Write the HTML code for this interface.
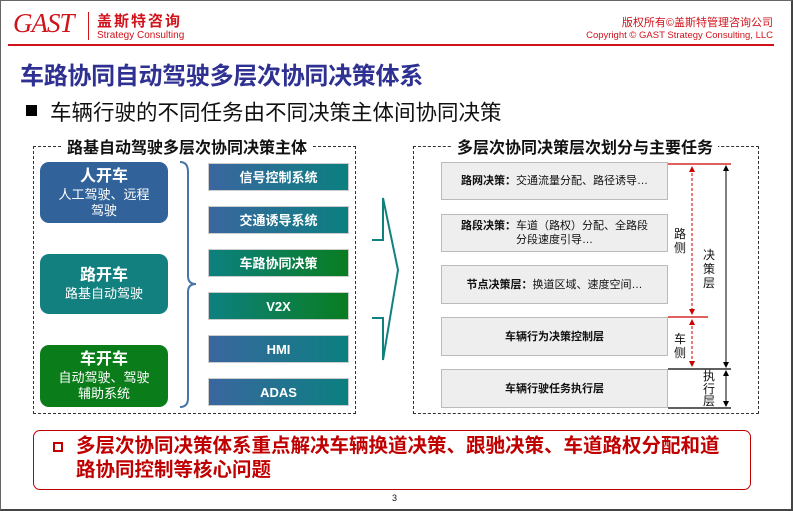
<!DOCTYPE html>
<html><head><meta charset="utf-8"><style>
*{margin:0;padding:0;box-sizing:border-box}
body{width:793px;height:511px;position:relative;background:#fff;font-family:"Liberation Sans","Noto Sans CJK SC",sans-serif;overflow:hidden}
.a{position:absolute}
.lb{position:absolute;left:40px;width:128px;border-radius:9px;color:#fff;text-align:center;font-size:13px;line-height:16px}
.lb b{display:block;font-size:16px;line-height:20px}
.bar{position:absolute;left:208px;width:141px;height:28px;color:#fff;font-weight:bold;font-size:13px;text-align:center;line-height:28px;border:1px solid #ccc}
.g1{background:linear-gradient(90deg,#3a66a0,#0b8080)}
.g2{background:linear-gradient(90deg,#0d8080,#0a7d20)}
.gb{position:absolute;left:441px;width:227px;background:#eeeeee;border:1px solid #bbb;font-size:11px;display:flex;align-items:center;justify-content:center;text-align:center;line-height:14px;color:#111}
.v{position:absolute;width:14px;font-size:12px;line-height:14px;text-align:center;color:#111}
</style></head><body>
<div class="a" style="left:0;top:0;width:793px;height:511px;border:1px solid #666;border-right:2px solid #444;border-bottom:2px solid #444"></div>
<div class="a" style="left:13px;top:8px;font:italic 27px 'Liberation Serif',serif;color:#d0121b;letter-spacing:-1px">GAST</div>
<div class="a" style="left:88px;top:12px;width:1px;height:28px;background:#d0121b"></div>
<div class="a" style="left:97px;top:10px;font-size:15px;font-weight:bold;color:#d0121b;letter-spacing:2px">盖斯特咨询</div>
<div class="a" style="left:97px;top:30px;font-size:10px;color:#d0121b">Strategy Consulting</div>
<div class="a" style="right:20px;top:14px;font-size:11px;color:#d0121b">版权所有©盖斯特管理咨询公司</div>
<div class="a" style="right:20px;top:30px;font-size:9.5px;color:#d0121b">Copyright © GAST Strategy Consulting, LLC</div>
<div class="a" style="left:8px;top:44px;width:766px;height:2px;background:#d0121b"></div>
<div class="a" style="left:20px;top:56px;font-size:24px;font-weight:bold;color:#2e3192;letter-spacing:-0.3px">车路协同自动驾驶多层次协同决策体系</div>
<div class="a" style="left:26px;top:105px;width:11px;height:11px;background:#000"></div>
<div class="a" style="left:50px;top:96px;font-size:21.5px;color:#111">车辆行驶的不同任务由不同决策主体间协同决策</div>

<div class="a" style="left:33px;top:146px;width:323px;height:268px;border:1px dashed #333"></div>
<div class="a" style="left:62px;top:134px;padding:0 5px;background:#fff;font-size:16px;font-weight:bold;color:#111">路基自动驾驶多层次协同决策主体</div>
<div class="lb" style="top:162px;height:61px;background:#31639a;padding-top:5px"><b>人开车</b>人工驾驶、远程<br>驾驶</div>
<div class="lb" style="top:254px;height:60px;background:#138080;padding-top:12px"><b>路开车</b>路基自动驾驶</div>
<div class="lb" style="top:345px;height:62px;background:#0a7d1a;padding-top:5px"><b>车开车</b>自动驾驶、驾驶<br>辅助系统</div>
<svg class="a" style="left:0;top:0" width="793" height="511">
<path d="M180,162 Q188,162 188,172 L188,276 Q188,284 196,284 Q188,284 188,292 L188,398 Q188,407 180,407" fill="none" stroke="#4a74a8" stroke-width="2"/>
<polyline points="372,240 383,240 383,198 398,270 383,360 383,318 372,318" fill="none" stroke="#118080" stroke-width="2"/>
<line x1="668" y1="164" x2="731" y2="164" stroke="#c00" stroke-width="1.2"/>
<line x1="668" y1="317" x2="708" y2="317" stroke="#c00" stroke-width="1.2"/>
<line x1="692" y1="168" x2="692" y2="313" stroke="#c00" stroke-dasharray="3,2"/>
<line x1="692" y1="321" x2="692" y2="364" stroke="#c00" stroke-dasharray="3,2"/>
<path d="M692,166 l-3,6 h6z M692,315 l-3,-6 h6z M692,319 l-3,6 h6z M692,367 l-3,-6 h6z" fill="#c00"/>
<line x1="668" y1="369" x2="731" y2="369" stroke="#000" stroke-width="1.2"/>
<line x1="668" y1="408" x2="731" y2="408" stroke="#000" stroke-width="1.2"/>
<line x1="726" y1="166" x2="726" y2="367" stroke="#000"/>
<line x1="726" y1="371" x2="726" y2="406" stroke="#000"/>
<path d="M726,165 l-3,6 h6z M726,368 l-3,-6 h6z M726,370 l-3,6 h6z M726,407 l-3,-6 h6z" fill="#000"/>
</svg>
<div class="bar g1" style="top:163px">信号控制系统</div>
<div class="bar g1" style="top:206px">交通诱导系统</div>
<div class="bar g2" style="top:249px">车路协同决策</div>
<div class="bar g2" style="top:292px">V2X</div>
<div class="bar g1" style="top:335px">HMI</div>
<div class="bar g1" style="top:378px">ADAS</div>

<div class="a" style="left:413px;top:146px;width:346px;height:268px;border:1px dashed #333"></div>
<div class="a" style="left:452px;top:134px;padding:0 5px;background:#fff;font-size:16px;font-weight:bold;color:#111">多层次协同决策层次划分与主要任务</div>
<div class="gb" style="top:162px;height:38px"><span><b>路网决策：</b>交通流量分配、路径诱导…</span></div>
<div class="gb" style="top:214px;height:38px"><span><b>路段决策：</b>车道（路权）分配、全路段<br>分段速度引导…</span></div>
<div class="gb" style="top:265px;height:39px"><span><b>节点决策层：</b>换道区域、速度空间…</span></div>
<div class="gb" style="top:317px;height:39px;font-weight:bold">车辆行为决策控制层</div>
<div class="gb" style="top:369px;height:39px;font-weight:bold">车辆行驶任务执行层</div>
<div class="v" style="left:673px;top:227px">路<br>侧</div>
<div class="v" style="left:673px;top:332px">车<br>侧</div>
<div class="v" style="left:702px;top:248px">决<br>策<br>层</div>
<div class="v" style="left:702px;top:370px;line-height:12.5px">执<br>行<br>层</div>

<div class="a" style="left:33px;top:430px;width:718px;height:60px;border:1px solid #c00000;border-radius:7px"></div>
<div class="a" style="left:53px;top:442px;width:10px;height:10px;border:2px solid #c00000"></div>
<div class="a" style="left:76px;top:434px;width:700px;font-size:19.5px;line-height:24px;font-weight:bold;color:#c00000;white-space:nowrap">多层次协同决策体系重点解决车辆换道决策、跟驰决策、车道路权分配和道<br>路协同控制等核心问题</div>
<div class="a" style="left:392px;top:493px;font-size:9px;color:#111">3</div>
</body></html>
